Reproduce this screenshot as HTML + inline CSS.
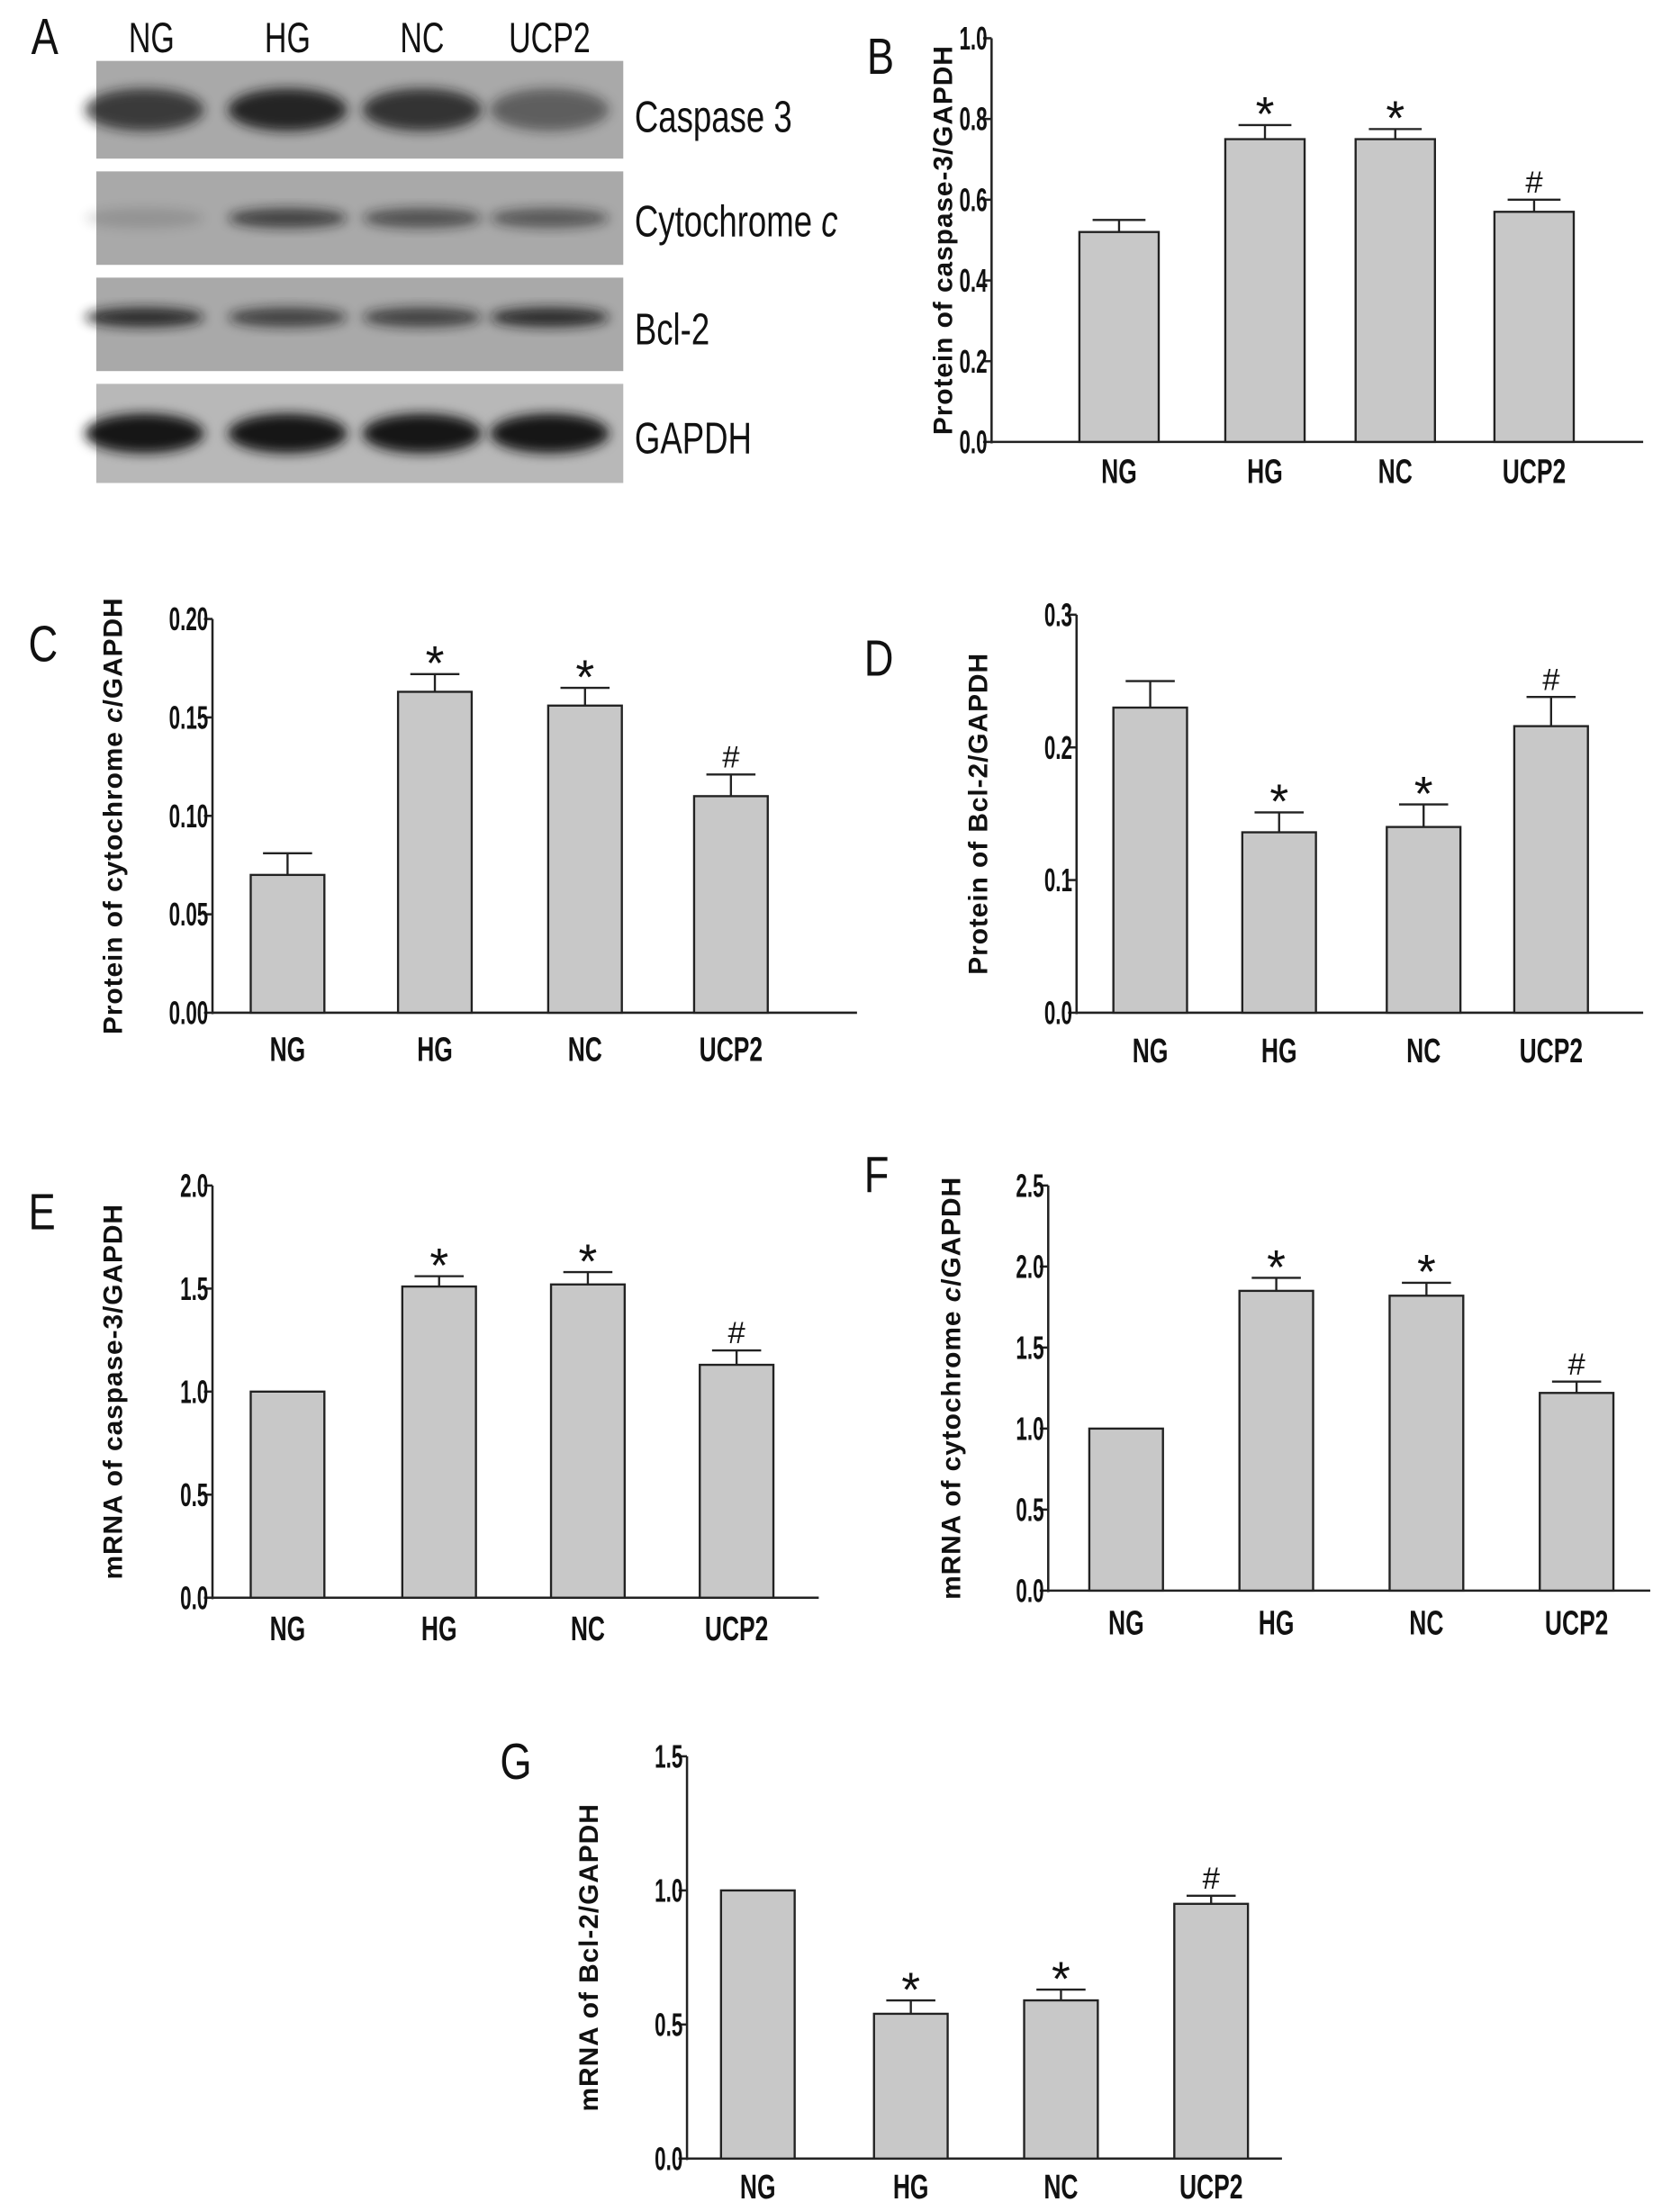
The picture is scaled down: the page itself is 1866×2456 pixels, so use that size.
<!DOCTYPE html>
<html><head><meta charset="utf-8"><style>
html,body{margin:0;padding:0;background:#fff}
svg{display:block}
text{font-family:"Liberation Sans",sans-serif}
</style></head><body>
<svg id="fig" width="1866" height="2456" viewBox="0 0 1186 1561" preserveAspectRatio="none" xmlns="http://www.w3.org/2000/svg">
<defs><filter id="bl" x="-30%" y="-50%" width="160%" height="200%"><feGaussianBlur stdDeviation="4"/></filter></defs>
<g id="blot"></g>
<g id="charts"></g>
</svg>
<script>
const NS="http://www.w3.org/2000/svg";
const categories=["NG","HG","NC","UCP2"];
const bVals=[0.52,0.75,0.75,0.57], bErr=[0.03,0.035,0.025,0.03], bMarks=["","*","*","#"];
const cVals=[0.07,0.163,0.156,0.11], cErr=[0.011,0.009,0.009,0.011], cMarks=["","*","*","#"];
const dVals=[0.23,0.136,0.14,0.216], dErr=[0.02,0.015,0.017,0.022], dMarks=["","*","*","#"];
const eVals=[1.0,1.51,1.52,1.13], eErr=[0,0.05,0.06,0.07], eMarks=["","*","*","#"];
const fVals=[1.0,1.85,1.82,1.22], fErr=[0,0.08,0.08,0.07], fMarks=["","*","*","#"];
const gVals=[1.0,0.54,0.59,0.95], gErr=[0,0.05,0.04,0.03], gMarks=["","*","*","#"];
const bTicks=["0.0","0.2","0.4","0.6","0.8","1.0"];
const cTicks=["0.00","0.05","0.10","0.15","0.20"];
const dTicks=["0.0","0.1","0.2","0.3"];
const eTicks=["0.0","0.5","1.0","1.5","2.0"];
const fTicks=["0.0","0.5","1.0","1.5","2.0","2.5"];
const gTicks=["0.0","0.5","1.0","1.5"];
const blotLabels=["Caspase 3","Cytochrome c","Bcl-2","GAPDH"];
const bandIntensity=[[0.75,0.9,0.8,0.5],[0.15,0.7,0.6,0.55],[0.85,0.7,0.7,0.85],[1,1,1,1]];

function el(tag,attrs,parent){const e=document.createElementNS(NS,tag);for(const k in attrs)e.setAttribute(k,attrs[k]);parent.appendChild(e);return e;}
function sx(x,s){return `translate(${x},0) scale(${s},1) translate(${-x},0)`;}

const blot=document.getElementById('blot');
let t=el('text',{x:22,y:38,'font-size':36,fill:'#111',transform:sx(22,0.8)},blot);t.textContent="A";

const laneX=[107,203,298,388];
categories.forEach((c,i)=>{const tt=el('text',{x:laneX[i],y:37,'font-size':30,'text-anchor':'middle',fill:'#111',transform:sx(laneX[i],0.72)},blot);tt.textContent=c;
});
const strips=[[43,112],[121,187],[196,262],[271,341]];
const labelY=[93,167,243,320];
strips.forEach((s,r)=>{
  const g=el('g',{},blot);
  
  el('rect',{x:68,y:s[0],width:372,height:s[1]-s[0],fill:r==3?'#b8b8b8':'#a9a9a9'},g);
  const cy=(s[0]+s[1])/2+(r==2?-5:0);
  const bh=r==3?28:(r==0?30:14);
  laneX.forEach((x,i)=>{const v=bandIntensity[r][i];
    el('ellipse',{cx:x+(i==0?-5:0),cy:cy,rx:42,ry:bh/2,fill:'#151515',opacity:v,filter:'url(#bl)'},g);});
  const lt=el('text',{x:448,y:labelY[r],'font-size':31,fill:'#111',transform:sx(448,0.75)},blot);
  if(r==1){lt.innerHTML='Cytochrome <tspan font-style="italic">c</tspan>';}else lt.textContent=blotLabels[r];
  
});

const charts=document.getElementById('charts');
function chart(cfg){
  const g=el('g',{},charts);
  
  const y=v=>cfg.y0-(v-cfg.min)/(cfg.max-cfg.min)*(cfg.y0-cfg.y1);
  const L=el('text',{x:cfg.lx,y:cfg.ly,'font-size':36,fill:'#111',transform:sx(cfg.lx,0.8)},g);L.textContent=cfg.letter;
  
  const ax=el('line',{x1:cfg.ax,y1:cfg.y1,x2:cfg.ax,y2:cfg.y0+1,stroke:'#222','stroke-width':1.6},g);
  
  const xa=el('line',{x1:cfg.ax,y1:cfg.y0,x2:cfg.xend,y2:cfg.y0,stroke:'#222','stroke-width':1.6},g);
  
  cfg.ticks.forEach(tk=>{const v=parseFloat(tk),yy=y(v);
    el('line',{x1:cfg.ax-6,y1:yy,x2:cfg.ax,y2:yy,stroke:'#222','stroke-width':1.6},g);
    const tt=el('text',{x:cfg.ax-3,y:yy+8,'font-size':23,'font-weight':'bold','text-anchor':'end',fill:'#111',transform:sx(cfg.ax-3,0.62)},g);tt.textContent=tk;
    });
  const yt=el('text',{x:0,y:0,'font-size':19,'font-weight':'bold','text-anchor':'middle',fill:'#111','letter-spacing':0.6,transform:`translate(${cfg.tx},${(cfg.y0+cfg.y1)/2}) rotate(-90)`},g);
  yt.innerHTML=cfg.title;
  
  const w=cfg.bw;
  cfg.vals.forEach((v,i)=>{const cx=cfg.cx[i];const top=y(v);
    const r=el('rect',{x:cx-w/2,y:top,width:w,height:cfg.y0-top,fill:'#c8c8c8',stroke:'#222','stroke-width':1.5},g);
    
    const e=cfg.err[i];
    if(e>0){const ye=y(v+e);
      el('line',{x1:cx,y1:top,x2:cx,y2:ye,stroke:'#222','stroke-width':1.5},g);
      el('line',{x1:cx-w/3,y1:ye,x2:cx+w/3,y2:ye,stroke:'#222','stroke-width':1.5},g);}
    const m=cfg.marks[i];
    if(m){const mt=el('text',{x:cx,y:y(v+e)-(m=='*'?-4:5),'font-size':m=='*'?34:22,'text-anchor':'middle',fill:'#111','font-family':'Liberation Serif'},g);mt.textContent=m;
      }
    const xl=el('text',{x:cx,y:cfg.y0+cfg.xlOff,'font-size':24,'font-weight':'bold','text-anchor':'middle',fill:'#111',transform:sx(cx,0.7)},g);xl.textContent=categories[i];
    
  });
}
chart({name:'chart-b-caspase3-protein',letter:'B',lx:612,ly:52,ax:700,y1:27,y0:312,xend:1160,min:0,max:1,ticks:bTicks,vals:bVals,err:bErr,marks:bMarks,cx:[790,893,985,1083],bw:56,tx:672,title:'Protein of caspase-3/GAPDH',xlOff:29});
chart({name:'chart-c-cytc-protein',letter:'C',lx:20,ly:467,ax:150,y1:437,y0:715,xend:605,min:0,max:0.2,ticks:cTicks,vals:cVals,err:cErr,marks:cMarks,cx:[203,307,413,516],bw:52,tx:86,title:'Protein of cytochrome <tspan font-style="italic">c</tspan>/GAPDH',xlOff:34});
chart({name:'chart-d-bcl2-protein',letter:'D',lx:610,ly:477,ax:760,y1:434,y0:715,xend:1160,min:0,max:0.3,ticks:dTicks,vals:dVals,err:dErr,marks:dMarks,cx:[812,903,1005,1095],bw:52,tx:697,title:'Protein of Bcl-2/GAPDH',xlOff:35});
chart({name:'chart-e-caspase3-mrna',letter:'E',lx:20,ly:868,ax:150,y1:837,y0:1128,xend:578,min:0,max:2,ticks:eTicks,vals:eVals,err:eErr,marks:eMarks,cx:[203,310,415,520],bw:52,tx:86,title:'mRNA of caspase-3/GAPDH',xlOff:30});
chart({name:'chart-f-cytc-mrna',letter:'F',lx:610,ly:842,ax:740,y1:837,y0:1123,xend:1165,min:0,max:2.5,ticks:fTicks,vals:fVals,err:fErr,marks:fMarks,cx:[795,901,1007,1113],bw:52,tx:678,title:'mRNA of cytochrome <tspan font-style="italic">c</tspan>/GAPDH',xlOff:31});
chart({name:'chart-g-bcl2-mrna',letter:'G',lx:353,ly:1256,ax:485,y1:1240,y0:1524,xend:905,min:0,max:1.5,ticks:gTicks,vals:gVals,err:gErr,marks:gMarks,cx:[535,643,749,855],bw:52,tx:422,title:'mRNA of Bcl-2/GAPDH',xlOff:28});
</script>
</body></html>
